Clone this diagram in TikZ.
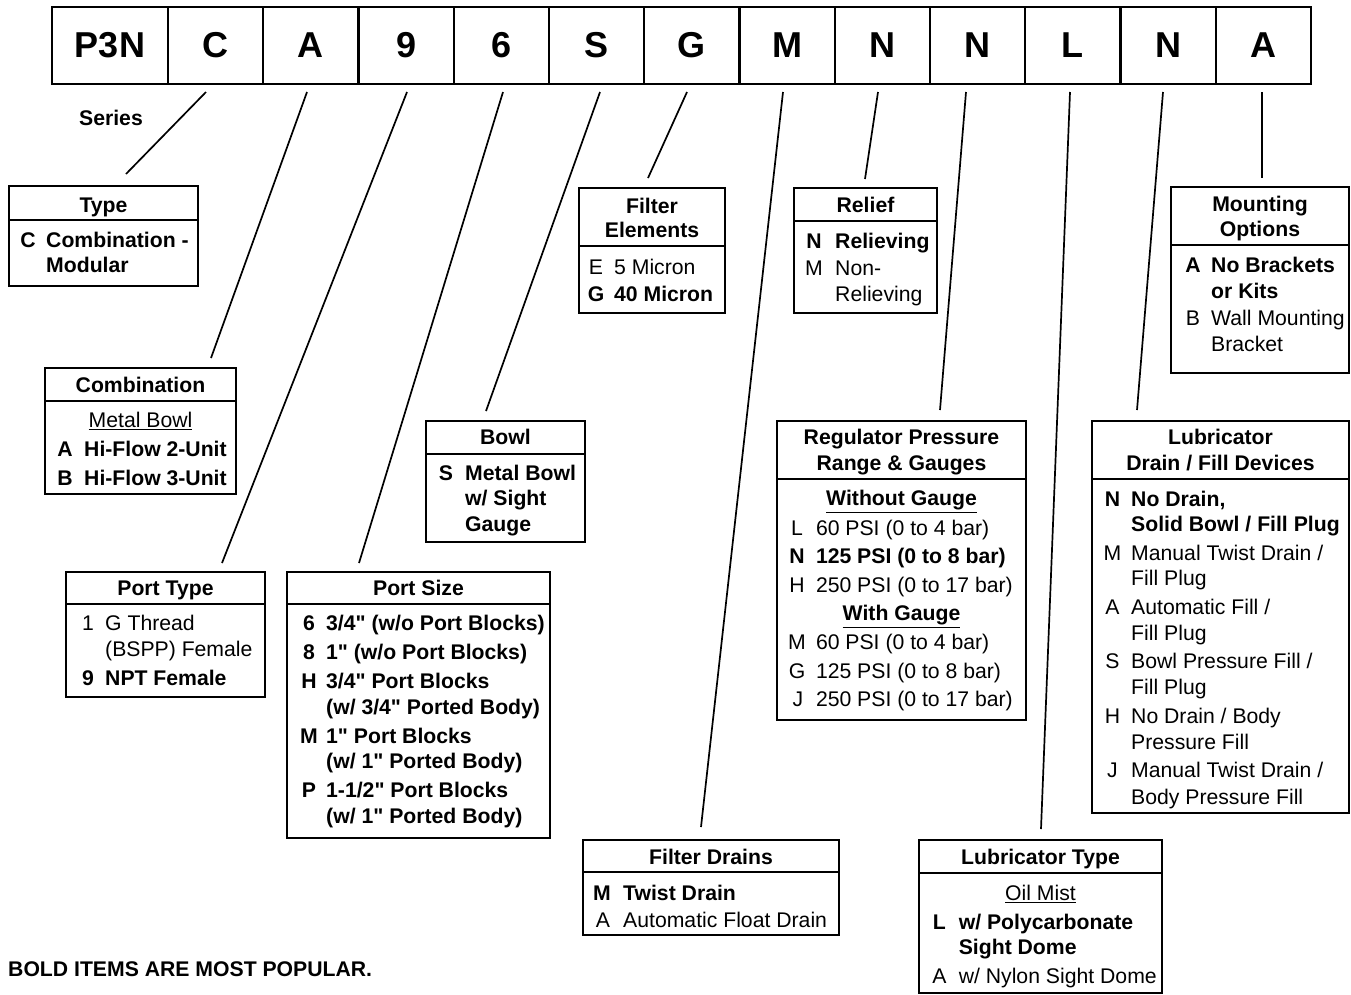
\documentclass[tikz,border=0pt]{standalone}
\usepackage{fontspec}
\setmainfont{Liberation Sans}[Ligatures=TeXOff]
\newcommand\OptR[6]{\node[rg,anchor=base] (#1l) at (#2,#4+7.6) {#5};\node[rg,anchor=base west] (#1t) at (#3,#4+7.6) {#6};}
\newcommand\OptB[6]{\node[bd,anchor=base] (#1l) at (#2,#4+7.6) {#5};\node[bd,anchor=base west] (#1t) at (#3,#4+7.6) {#6};}
\newcommand\ContR[4]{\node[rg,anchor=base west] (#1) at (#2,#3+7.6) {#4};}
\newcommand\ContB[4]{\node[bd,anchor=base west] (#1) at (#2,#3+7.6) {#4};}
\newcommand\Head[4]{\node[bd,anchor=base] (#1) at (#2,#3+7.6) {#4};}
\newcommand\OptBox[6]{%
  \node[obox, minimum width=#4pt, minimum height=#5pt, anchor=north west] (#1) at (#2,#3) {};
  \draw[divline] (#1.west |- 0,#6) -- (#1.east |- 0,#6);}
\begin{document}
\begin{tikzpicture}[x=1pt,y=-1pt,
  cell/.style={draw, line width=2.2pt, minimum height=77pt, minimum width=95.25pt, inner sep=0pt, outer sep=0pt, font=\fontsize{36}{40}\selectfont\bfseries},
  obox/.style={draw, line width=2.2pt, inner sep=0pt, outer sep=0pt},
  divline/.style={line width=2pt},
  leader/.style={line width=1.7pt},
  rg/.style={inner sep=0pt, font=\fontsize{21.2}{25}\selectfont},
  bd/.style={inner sep=0pt, font=\fontsize{21.2}{25}\selectfont\bfseries}]
\useasboundingbox (0,0) rectangle (1351,994);

% top row
\node[cell, minimum width=116pt] (c0) at (110,45.5) {P3N};
\node[cell] (c1) at (215.6,45.5) {C};
\node[cell] (c2) at (310.9,45.5) {A};
\node[cell] (c3) at (406.1,45.5) {9};
\node[cell] (c4) at (501.4,45.5) {6};
\node[cell] (c5) at (596.6,45.5) {S};
\node[cell] (c6) at (691.9,45.5) {G};
\node[cell] (c7) at (787.1,45.5) {M};
\node[cell] (c8) at (882.4,45.5) {N};
\node[cell] (c9) at (977.6,45.5) {N};
\node[cell] (c10) at (1072.9,45.5) {L};
\node[cell] (c11) at (1168.1,45.5) {N};
\node[cell] (c12) at (1263.4,45.5) {A};

\Head{series}{111}{118}{Series}

% leader lines
\coordinate (s1) at (206,92);   \coordinate (e1) at (126,174);
\coordinate (s2) at (307,92);   \coordinate (e2) at (211,358);
\coordinate (s3) at (407,92);   \coordinate (e3) at (222,563);
\coordinate (s4) at (503,92);   \coordinate (e4) at (359,563);
\coordinate (s5) at (600,92);   \coordinate (e5) at (486,411);
\coordinate (s6) at (687,92);   \coordinate (e6) at (648,178);
\coordinate (s7) at (783,92);   \coordinate (e7) at (701,827);
\coordinate (s8) at (878,92);   \coordinate (e8) at (865,179);
\coordinate (s9) at (966,92);   \coordinate (e9) at (940,410);
\coordinate (s10) at (1070,92); \coordinate (e10) at (1041,829);
\coordinate (s11) at (1163,92); \coordinate (e11) at (1137,410);
\coordinate (s12) at (1262,92); \coordinate (e12) at (1262,178);
\foreach \i in {1,...,12} \draw[leader] (s\i) -- (e\i);

% Type
\OptBox{type}{9}{186}{189}{100}{220}
\Head{typeh}{103.5}{205}{Type}
\OptB{ty1}{28}{46}{240}{C}{Combination -}
\ContB{ty2}{46}{265}{Modular}

% Combination
\OptBox{comb}{45}{368}{191}{126}{401}
\Head{combh}{140.5}{385}{Combination}
\node[rg,anchor=base] (combsub) at (140.5,420+7.6) {\underline{Metal Bowl}};
\OptB{cb1}{65}{84}{449.3}{A}{Hi-Flow 2-Unit}
\OptB{cb2}{65}{84}{477.7}{B}{Hi-Flow 3-Unit}

% Port Type
\OptBox{ptype}{66}{572}{199}{125}{604}
\Head{ptypeh}{165.5}{588.3}{Port Type}
\OptR{pt1}{88}{105}{622.7}{1}{G Thread}
\ContR{pt2}{105}{649.3}{(BSPP) Female}
\OptB{pt3}{88}{105}{677.7}{9}{NPT Female}

% Port Size
\OptBox{psize}{287}{572}{263}{266}{604}
\Head{psizeh}{418.5}{588.3}{Port Size}
\OptB{ps1}{309}{326}{622.7}{6}{3/4" (w/o Port Blocks)}
\OptB{ps2}{309}{326}{651.7}{8}{1" (w/o Port Blocks)}
\OptB{ps3}{309}{326}{680.7}{H}{3/4" Port Blocks}
\ContB{ps4}{326}{706.7}{(w/ 3/4" Ported Body)}
\OptB{ps5}{309}{326}{735.7}{M}{1" Port Blocks}
\ContB{ps6}{326}{761}{(w/ 1" Ported Body)}
\OptB{ps7}{309}{326}{790}{P}{1-1/2" Port Blocks}
\ContB{ps8}{326}{816}{(w/ 1" Ported Body)}

% Bowl
\OptBox{bowl}{426}{421}{159}{121}{454}
\Head{bowlh}{505.5}{437.3}{Bowl}
\OptB{bw1}{446}{465}{472.7}{S}{Metal Bowl}
\ContB{bw2}{465}{498}{w/ Sight}
\ContB{bw3}{465}{524}{Gauge}

% Filter Elements
\OptBox{felem}{579}{188}{146}{125}{246}
\Head{felemh1}{652}{206}{Filter}
\Head{felemh2}{652}{230}{Elements}
\OptR{fe1}{596}{614}{266.7}{E}{5 Micron}
\OptB{fe2}{596}{614}{294.3}{G}{40 Micron}

% Filter Drains
\OptBox{fdrain}{583}{840}{256}{95}{872}
\Head{fdrainh}{711}{856.7}{Filter Drains}
\OptB{fd1}{602}{623}{892.7}{M}{Twist Drain}
\OptR{fd2}{603}{623}{920}{A}{Automatic Float Drain}

% Relief
\OptBox{relief}{794}{188}{143}{125}{221}
\Head{reliefh}{865.5}{205}{Relief}
\OptB{rl1}{814}{835}{240.7}{N}{Relieving}
\OptR{rl2}{814}{835}{268.3}{M}{Non-}
\ContR{rl3}{835}{294.3}{Relieving}

% Regulator
\OptBox{reg}{777}{421}{249}{299}{479}
\Head{regh1}{901.5}{437.3}{Regulator Pressure}
\Head{regh2}{901.5}{463.3}{Range \& Gauges}
\node[bd,anchor=base] (regs1) at (901.5,498.3+7.6) {\underline{Without Gauge}};
\OptR{rg1}{797}{815.8}{527.7}{L}{60 PSI (0 to 4 bar)}
\OptB{rg2}{797}{815.8}{556}{N}{125 PSI (0 to 8 bar)}
\OptR{rg3}{797}{815.8}{585}{H}{250 PSI (0 to 17 bar)}
\node[bd,anchor=base] (regs2) at (901.5,613.3+7.6) {\underline{With Gauge}};
\OptR{rg4}{797}{815.8}{642.3}{M}{60 PSI (0 to 4 bar)}
\OptR{rg5}{797}{815.8}{670.7}{G}{125 PSI (0 to 8 bar)}
\OptR{rg6}{798}{815.8}{699.3}{J}{250 PSI (0 to 17 bar)}

% Lubricator Type
\OptBox{ltype}{919}{840}{243}{153}{873}
\Head{ltypeh}{1040.5}{856.7}{Lubricator Type}
\node[rg,anchor=base] (ltsub) at (1040.5,892.7+7.6) {\underline{Oil Mist}};
\OptB{lt1}{939.4}{958.6}{921.7}{L}{w/ Polycarbonate}
\ContB{lt2}{958.6}{946.7}{Sight Dome}
\OptR{lt3}{939.4}{958.6}{976}{A}{w/ Nylon Sight Dome}

% Mounting Options
\OptBox{mount}{1171}{187}{178}{186}{245}
\Head{mounth1}{1260}{204}{Mounting}
\Head{mounth2}{1260}{229.3}{Options}
\OptB{mo1}{1193}{1211}{265}{A}{No Brackets}
\ContB{mo2}{1211}{291}{or Kits}
\OptR{mo3}{1193}{1211}{318.3}{B}{Wall Mounting}
\ContR{mo4}{1211}{344}{Bracket}

% Lubricator Drain / Fill
\OptBox{ldrain}{1092}{421}{257}{392}{479}
\Head{ldrainh1}{1220.5}{437.3}{Lubricator}
\Head{ldrainh2}{1220.5}{463.3}{Drain / Fill Devices}
\OptB{ld1}{1112.5}{1131}{499}{N}{No Drain,}
\ContB{ld2}{1131}{524}{Solid Bowl / Fill Plug}
\OptR{ld3}{1112.5}{1131}{553.3}{M}{Manual Twist Drain /}
\ContR{ld4}{1131}{578.3}{Fill Plug}
\OptR{ld5}{1112.5}{1131}{606.7}{A}{Automatic Fill /}
\ContR{ld6}{1131}{632.7}{Fill Plug}
\OptR{ld7}{1112.5}{1131}{661}{S}{Bowl Pressure Fill /}
\ContR{ld8}{1131}{686.7}{Fill Plug}
\OptR{ld9}{1112.5}{1131}{716}{H}{No Drain / Body}
\ContR{ld10}{1131}{741.7}{Pressure Fill}
\OptR{ld11}{1112.5}{1131}{770}{J}{Manual Twist Drain /}
\ContR{ld12}{1131}{796.7}{Body Pressure Fill}

% footnote
\node[bd,anchor=base west] (note) at (8,969.3+7.6) {BOLD ITEMS ARE MOST POPULAR.};
\end{tikzpicture}
\end{document}
